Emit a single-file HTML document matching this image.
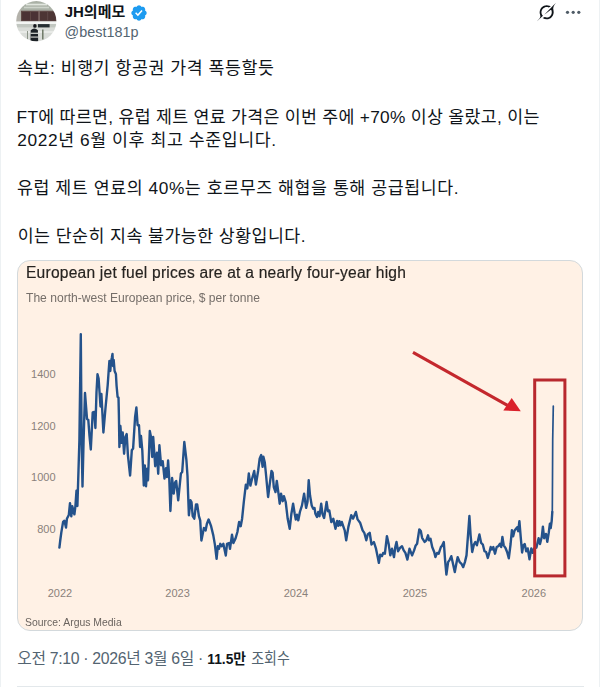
<!DOCTYPE html>
<html lang="ko">
<head>
<meta charset="utf-8">
<title>JH의메모 (@best181p)</title>
<style>
  html,body{margin:0;padding:0;background:#fff;}
  body{width:600px;height:687px;position:relative;overflow:hidden;font-family:"Liberation Sans",sans-serif;color:#0f1419;}
  .sr{position:absolute;width:1px;height:1px;margin:-1px;padding:0;overflow:hidden;clip:rect(0 0 0 0);clip-path:inset(50%);white-space:nowrap;border:0;}
  .ln{position:absolute;left:0;width:600px;height:24px;margin:0;}
  .ln svg{display:block;position:absolute;left:0;top:0;}
  .ln svg text{font-family:"Liberation Sans","Noto Sans CJK KR",sans-serif;}
  .avatar{position:absolute;left:15.8px;top:1.45px;}
  .badge{position:absolute;left:130.4px;top:3.9px;}
  .handle{position:absolute;left:64.6px;top:21.7px;font-size:14.4px;line-height:20px;color:#536471;white-space:nowrap;}
  .grok{position:absolute;left:536.95px;top:3.4px;}
  .more{position:absolute;left:564px;top:8px;}
  .more i{position:absolute;top:0.4px;width:2.9px;height:2.9px;border-radius:50%;background:#536471;}
  .card{position:absolute;left:17px;top:260px;width:564px;height:369px;border:1px solid #d3d9dc;border-radius:13px;background:#fff1e5;overflow:hidden;}
  .card .chart{position:absolute;left:-1px;top:-1px;}
  .ctitle{position:absolute;left:7.5px;top:3.1px;font-size:15.6px;line-height:18px;color:#262320;white-space:nowrap;transform-origin:0 50%;transform:scaleX(0.999);letter-spacing:0.22px;-webkit-text-stroke:0.18px #262320;}
  .csub{position:absolute;left:8.0px;top:30.4px;font-size:12.2px;transform:scaleX(0.992);line-height:14px;color:#756e69;white-space:nowrap;transform-origin:0 50%;}
  .csrc{position:absolute;left:7.4px;top:354.6px;font-size:10.8px;transform:scaleX(0.965);line-height:12px;color:#6b645f;white-space:nowrap;transform-origin:0 50%;}
  .rule{position:absolute;left:16.5px;top:686px;width:567px;height:1px;background:#e3e8eb;}
  .edge{position:absolute;top:0;width:1px;height:687px;background:#edf1f3;}
</style>
</head>
<body>
<header>
<svg class="avatar" width="41" height="41" viewBox="0 0 41 41" role="img" aria-label="JH의메모 profile photo">
  <defs><clipPath id="av"><circle cx="20.3" cy="20.2" r="20.1"/></clipPath>
  <filter id="bl" x="-10%" y="-10%" width="120%" height="120%"><feGaussianBlur stdDeviation="0.75"/></filter></defs>
  <g clip-path="url(#av)"><g filter="url(#bl)">
    <rect x="-3" y="-3" width="47" height="47" fill="#d7dbd5"/>
    <rect x="-3" y="-3" width="47" height="12.8" fill="#aab1a6"/>
    <rect x="10" y="2.7" width="21" height="1.7" fill="#e1e6df"/>
    <rect x="8" y="5.7" width="25" height="1.6" fill="#cdd3ca"/>
    <rect x="-3" y="8" width="8.2" height="14" fill="#b4b2ab"/>
    <rect x="5" y="9.7" width="38" height="10.8" fill="#5f4846"/>
    <rect x="6.2" y="11" width="16.2" height="8.5" fill="#4b3234"/>
    <rect x="23.7" y="11" width="16" height="8.5" fill="#4d3436"/>
    <rect x="14" y="11" width="0.6" height="8.5" fill="#6d5653"/>
    <rect x="31.5" y="11" width="0.6" height="8.5" fill="#6d5653"/>
    <rect x="22.6" y="9.7" width="0.9" height="10.8" fill="#93827d"/>
    <rect x="-3" y="20.4" width="47" height="2.6" fill="#f3f5f3"/>
    <rect x="-3" y="23" width="47" height="3.6" fill="#c2c7c1"/>
    <rect x="-3" y="26.6" width="47" height="18" fill="#d9dcd8"/>
    <rect x="-3" y="30" width="47" height="2" fill="#e8eae7"/>
    <rect x="22" y="23.1" width="11.6" height="3.3" fill="#262e33"/>
    <rect x="26.1" y="28.5" width="1.4" height="10" fill="#66725f"/>
    <rect x="11" y="30" width="1" height="8.5" fill="#8b9488"/>
    <ellipse cx="18.9" cy="24.9" rx="1.75" ry="1.9" fill="#15181a"/>
    <path d="M14.7 29.2 q3.6 -3.6 7.2 0 l0.3 12 h-7.8z" fill="#1d2225"/>
    <rect x="14.5" y="31.7" width="7.6" height="1.15" fill="#dfe2de"/>
    <rect x="14.5" y="35.5" width="7.6" height="1.15" fill="#cfd2ce"/>
  </g></g>
</svg>
<div class="ln" style="top:-1px"><span class="sr">JH의메모</span><svg aria-hidden="true" width="600" height="24" viewBox="0 0 600 24" fill="#0f1419" color="#0f1419"><text x="64.69" y="17.62" font-size="15" font-weight="bold" fill="#0f1419" textLength="60.6" lengthAdjust="spacingAndGlyphs">JH의메모</text></svg></div>

<svg class="badge" viewBox="0 0 22 22" width="18" height="18" aria-label="Verified account" role="img"><path fill="#1d9bf0" d="M20.396 11c-.018-.646-.215-1.275-.57-1.816-.354-.54-.852-.972-1.438-1.246.223-.607.27-1.264.14-1.897-.131-.634-.437-1.218-.882-1.687-.47-.445-1.053-.75-1.687-.882-.633-.13-1.29-.083-1.897.14-.273-.587-.704-1.086-1.245-1.44S11.647 1.62 11 1.604c-.646.017-1.273.213-1.813.568s-.969.854-1.24 1.44c-.608-.223-1.267-.272-1.902-.14-.635.13-1.22.436-1.69.882-.445.47-.749 1.055-.878 1.688-.13.633-.08 1.29.144 1.896-.587.274-1.087.705-1.443 1.245-.356.54-.555 1.17-.574 1.817.02.647.218 1.276.574 1.817.356.54.856.972 1.443 1.245-.224.606-.274 1.263-.144 1.896.13.634.433 1.218.877 1.688.47.443 1.054.747 1.687.878.633.132 1.29.084 1.897-.136.274.586.705 1.084 1.246 1.439.54.354 1.17.551 1.816.569.647-.016 1.276-.213 1.817-.567s.972-.854 1.245-1.44c.604.239 1.266.296 1.903.164.636-.132 1.22-.447 1.68-.907.46-.46.776-1.044.908-1.681s.075-1.299-.165-1.903c.586-.274 1.084-.705 1.439-1.246.354-.54.551-1.17.569-1.816zM9.662 14.85l-3.429-3.428 1.293-1.302 2.072 2.072 4.4-4.794 1.347 1.246z"/></svg>
<div class="handle">@best181p</div>
<svg class="grok" viewBox="0 0 33 32" width="18.8" height="18.23" aria-label="Grok actions" role="img"><path fill="#0f1419" d="M12.745 20.54l10.97-8.19c.539-.4 1.307-.244 1.564.38 1.349 3.288.746 7.241-1.938 9.955-2.683 2.714-6.417 3.31-9.83 1.954l-3.728 1.745c5.347 3.697 11.84 2.782 15.898-1.324 3.219-3.255 4.216-7.692 3.284-11.693l.008.009c-1.351-5.878.332-8.227 3.782-13.031L33 0l-4.54 4.59v-.014L12.743 20.544m-2.263 1.987c-3.837-3.707-3.175-9.446.1-12.755 2.42-2.449 6.388-3.448 9.852-1.979l3.72-1.737c-.67-.49-1.53-1.017-2.515-1.387-4.455-1.854-9.789-.931-13.41 2.728-3.483 3.523-4.579 8.94-2.697 13.561 1.405 3.454-.899 5.898-3.22 8.364C1.49 30.2.666 31.074 0 32l10.478-9.466"/></svg>
<svg class="more" role="img" aria-label="More" width="20" height="8" viewBox="0 0 20 8"><g fill="#4f5b66"><circle cx="3.5" cy="4.3" r="1.6"/><circle cx="9.2" cy="4.3" r="1.6"/><circle cx="14.8" cy="4.3" r="1.6"/></g></svg>
</header>
<main>
<div class="ln" style="top:56px"><span class="sr">속보: 비행기 항공권 가격 폭등할듯</span><svg aria-hidden="true" width="600" height="24" viewBox="0 0 600 24" fill="#0f1419" color="#0f1419"><text x="16.97" y="18.11" font-size="17.3" fill="#0f1419" textLength="256.9" lengthAdjust="spacing">속보: 비행기 항공권 가격 폭등할듯</text></svg></div>
<div class="ln" style="top:104px"><span class="sr">FT에 따르면, 유럽 제트 연료 가격은 이번 주에 +70% 이상 올랐고, 이는</span><svg aria-hidden="true" width="600" height="24" viewBox="0 0 600 24" fill="#0f1419" color="#0f1419"><text x="16.53" y="18.51" font-size="17.3" fill="#0f1419" textLength="522.8" lengthAdjust="spacing">FT에 따르면, 유럽 제트 연료 가격은 이번 주에 +70% 이상 올랐고, 이는</text></svg></div>
<div class="ln" style="top:128px"><span class="sr">2022년 6월 이후 최고 수준입니다.</span><svg aria-hidden="true" width="600" height="24" viewBox="0 0 600 24" fill="#0f1419" color="#0f1419"><text x="17.37" y="18.31" font-size="17.3" fill="#0f1419" textLength="258.6" lengthAdjust="spacing">2022년 6월 이후 최고 수준입니다.</text></svg></div>
<div class="ln" style="top:176px"><span class="sr">유럽 제트 연료의 40%는 호르무즈 해협을 통해 공급됩니다.</span><svg aria-hidden="true" width="600" height="24" viewBox="0 0 600 24" fill="#0f1419" color="#0f1419"><text x="16.97" y="18.21" font-size="17.3" fill="#0f1419" textLength="441.5" lengthAdjust="spacing">유럽 제트 연료의 40%는 호르무즈 해협을 통해 공급됩니다.</text></svg></div>
<div class="ln" style="top:224px"><span class="sr">이는 단순히 지속 불가능한 상황입니다.</span><svg aria-hidden="true" width="600" height="24" viewBox="0 0 600 24" fill="#0f1419" color="#0f1419"><text x="17.67" y="18.21" font-size="17.3" fill="#0f1419" textLength="287.8" lengthAdjust="spacing">이는 단순히 지속 불가능한 상황입니다.</text></svg></div>

<figure class="card" style="margin:0">
  
<svg class="chart" width="566" height="371" viewBox="0 0 566 371" role="img" aria-label="Line chart of north-west European jet fuel price, 2022 to 2026">
  <g font-family="Liberation Sans, sans-serif" font-size="11" fill="#8a817b">
    <text x="38.6" y="117.9" text-anchor="end">1400</text><text x="38.6" y="170.2" text-anchor="end">1200</text><text x="38.6" y="221.0" text-anchor="end">1000</text><text x="38.6" y="273.0" text-anchor="end">800</text>
    <text x="43.0" y="336.8" text-anchor="middle">2022</text><text x="160.6" y="336.8" text-anchor="middle">2023</text><text x="279.0" y="336.8" text-anchor="middle">2024</text><text x="398.0" y="336.8" text-anchor="middle">2025</text><text x="516.8" y="336.8" text-anchor="middle">2026</text>
  </g>
  <polyline points="42.4,287.6 43.3,280.0 44.3,272.6 46.1,261.9 47.4,260.7 49.0,267.6 49.9,258.8 51.8,255.0 53.0,243.2 54.3,256.3 55.3,246.3 57.4,254.4 58.4,246.3 59.5,230.6 60.4,246.0 61.5,210.0 62.4,180.0 63.8,74.2 64.6,180.0 65.5,226.5 66.6,180.0 68.0,133.0 70.0,158.8 71.3,160.0 72.5,176.0 73.8,189.5 75.7,152.5 77.3,152.0 78.4,168.0 79.5,132.0 80.5,114.3 81.6,118.5 82.6,133.0 83.5,146.5 84.4,134.0 86.4,172.5 88.5,148.0 90.7,125.0 91.6,112.0 92.4,101.0 93.3,111.0 94.0,102.0 94.8,98.0 95.5,94.0 96.0,106.0 96.7,100.0 97.6,111.0 98.9,114.0 99.6,126.0 100.6,137.0 101.5,137.5 101.9,155.0 102.4,187.0 103.4,166.0 104.6,182.7 105.7,172.5 107.1,193.7 108.4,177.0 109.7,174.0 110.9,195.0 113.1,215.5 114.8,190.3 116.1,188.6 118.1,156.8 119.4,147.5 120.6,165.2 122.0,165.2 123.1,187.0 124.0,176.0 125.3,190.3 126.8,225.5 127.8,205.4 129.0,226.3 130.2,208.7 131.0,220.4 132.8,171.0 134.0,176.9 135.2,197.0 136.2,177.0 138.2,206.2 139.9,192.8 141.2,213.7 142.4,185.3 144.1,205.4 145.7,201.2 147.5,218.6 149.0,208.2 150.0,217.0 151.1,200.5 152.3,219.5 153.4,251.0 155.1,218.0 156.7,233.6 158.1,222.5 159.2,221.0 161.2,240.4 163.9,213.5 165.2,212.0 167.3,182.0 169.4,200.0 170.5,216.0 171.1,234.0 171.9,255.3 173.5,240.3 174.5,242.0 175.7,256.2 177.3,258.7 179.0,244.4 180.2,244.4 181.9,256.2 183.2,260.4 184.4,280.5 186.9,267.9 188.6,270.4 189.9,263.7 191.6,259.5 194.1,266.2 196.3,275.4 197.9,284.6 199.6,298.9 200.8,286.3 202.0,288.8 203.3,283.8 204.6,286.3 206.3,283.8 208.8,295.5 210.0,283.8 212.0,283.0 213.0,288.8 215.0,274.6 216.4,283.0 218.4,278.8 220.4,272.0 222.1,262.0 223.7,266.2 225.1,258.7 226.8,242.0 228.8,224.8 230.3,228.5 231.8,213.5 233.4,225.6 235.0,219.0 237.2,211.0 238.9,224.6 241.1,211.0 242.7,198.5 244.2,195.1 245.6,206.8 246.4,196.8 247.8,202.6 248.9,213.5 251.1,237.0 252.8,223.6 254.5,211.0 255.6,212.7 256.8,227.0 258.5,232.0 259.8,221.0 261.5,233.6 262.7,243.7 264.0,233.6 265.7,241.2 266.9,236.1 268.7,242.0 270.7,258.8 272.7,268.8 274.4,253.7 276.1,243.7 277.7,253.7 278.8,259.6 279.9,254.6 281.3,260.4 282.9,252.0 285.0,245.4 287.1,233.6 289.1,247.9 290.5,242.0 291.7,220.2 293.0,235.3 294.7,245.4 296.2,248.7 297.5,247.9 298.4,253.7 300.0,257.0 301.2,252.0 302.5,256.2 304.2,243.7 305.4,253.7 307.1,258.0 309.6,242.0 310.9,251.2 312.3,250.4 314.3,262.1 316.3,258.8 318.5,268.8 320.1,261.0 321.3,265.8 322.4,261.1 323.6,265.3 324.8,262.0 326.2,266.1 327.7,270.3 329.2,280.3 331.4,266.9 334.2,255.2 336.1,258.6 338.9,251.9 340.6,259.4 343.1,262.7 345.6,270.3 347.3,272.8 349.3,280.3 350.7,274.5 352.7,272.8 354.5,284.5 356.9,282.0 359.0,288.7 360.7,297.1 361.9,302.9 363.2,294.6 364.9,296.2 366.2,292.9 367.9,293.7 369.9,276.1 371.6,283.7 373.3,295.4 375.0,288.7 377.0,297.1 378.3,287.0 379.5,282.0 381.1,291.2 383.0,287.9 385.0,286.2 386.7,290.4 388.4,292.9 390.4,299.6 392.5,288.7 395.1,295.4 397.1,290.4 398.7,285.4 400.1,283.7 402.3,269.4 403.8,271.1 405.1,277.8 407.6,282.0 409.3,280.3 411.0,275.3 412.1,280.3 413.5,278.7 415.2,287.0 417.2,292.0 418.4,297.1 420.1,292.9 421.7,293.7 423.9,287.0 424.8,286.2 426.8,282.0 428.1,300.4 429.4,314.6 431.1,302.1 432.8,299.6 434.3,296.2 435.6,302.1 437.8,312.1 439.3,303.8 440.7,297.1 442.7,302.1 444.5,303.8 446.2,307.1 447.9,302.1 449.5,295.4 451.0,275.3 452.4,256.0 453.6,275.3 455.2,292.0 456.9,284.5 458.3,282.0 459.9,285.3 462.4,274.4 464.1,282.8 465.8,284.5 467.5,291.2 469.1,292.0 470.8,297.9 472.5,292.0 473.7,287.0 475.0,289.5 476.3,287.0 478.0,293.7 479.7,287.0 481.4,286.2 483.0,283.7 484.2,287.0 485.4,277.0 486.7,285.3 488.4,287.8 490.1,292.0 491.8,298.3 493.6,284.0 494.9,270.2 496.1,276.4 497.6,270.5 500.2,267.3 501.2,271.2 502.4,261.2 503.7,276.8 505.1,292.5 506.3,285.4 507.7,284.0 509.2,291.3 510.7,288.4 512.5,299.3 514.3,288.4 515.8,292.8 517.2,288.4 519.4,287.7 521.6,278.2 523.0,284.0 524.8,276.8 525.9,266.6 527.1,278.2 528.9,273.9 530.3,281.9 531.8,272.4 532.9,263.7 533.7,268.0 534.7,260.8 535.3,252.0" fill="none" stroke="#24528b" stroke-width="2.4" stroke-linejoin="round" stroke-linecap="round"/>
  <polyline points="535.3,252.0 535.5,220.0 535.7,180.0 536.3,146.0" fill="none" stroke="#24528b" stroke-width="1.7" stroke-linejoin="round" stroke-linecap="round"/>
  <rect x="517.7" y="120" width="30.199999999999932" height="195.89999999999998" fill="none" stroke="#b8292e" stroke-width="3"/>
  <line x1="396" y1="92.39999999999998" x2="490.5" y2="145.3" stroke="#c4282d" stroke-width="3.1"/>
  <polygon points="494.7,138 486.3,150.5 503.79999999999995,151.3" fill="#da212b"/>
</svg>
  <div class="ctitle">European jet fuel prices are at a nearly four-year high</div>
  <div class="csub">The north-west European price, $ per tonne</div>
  <div class="csrc">Source: Argus Media</div>
</figure>
</main>
<footer>
<div class="ln" style="top:646px"><span class="sr">오전 7:10 · 2026년 3월 6일 ·</span><svg aria-hidden="true" width="600" height="24" viewBox="0 0 600 24" fill="#536471" color="#536471"><text x="17.3" y="18.38" font-size="15.8" fill="#536471" textLength="186" lengthAdjust="spacing">오전 7:10 · 2026년 3월 6일 ·</text></svg></div>
<div class="ln" style="top:646px"><span class="sr">11.5만</span><svg aria-hidden="true" width="600" height="24" viewBox="0 0 600 24" fill="#0f1419" color="#0f1419"><text x="207.22" y="18.16" font-size="14.8" font-weight="bold" fill="#0f1419" textLength="38.8" lengthAdjust="spacingAndGlyphs">11.5만</text></svg></div>
<div class="ln" style="top:646px"><span class="sr">조회수</span><svg aria-hidden="true" width="600" height="24" viewBox="0 0 600 24" fill="#536471" color="#536471"><text x="251.2" y="18.38" font-size="15.8" fill="#536471" textLength="38.6" lengthAdjust="spacingAndGlyphs">조회수</text></svg></div>

<div class="rule"></div>
<div class="edge" style="left:0"></div><div class="edge" style="left:599px"></div>
</footer>
</body>
</html>
